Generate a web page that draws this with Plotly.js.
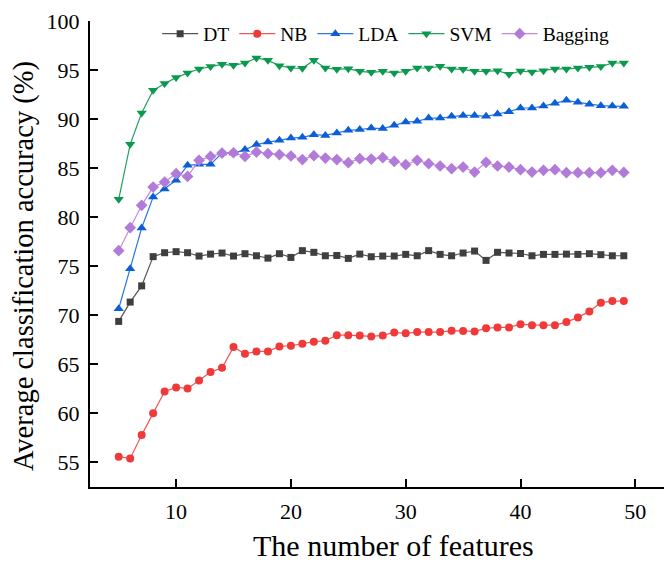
<!DOCTYPE html>
<html><head><meta charset="utf-8">
<script src="https://cdn.plot.ly/plotly-3.0.1.min.js"></script>
<style>body{margin:0;background:#fff}#c{width:664px;height:564px}</style>
</head><body><div id="c"></div>
<script>
const features = [5,6,7,8,9,10,11,12,13,14,15,16,17,18,19,20,21,22,23,24,25,26,27,28,29,30,31,32,33,34,35,36,37,38,39,40,41,42,43,44,45,46,47,48,49];
const dt = [69.38,71.35,73.0,75.98,76.38,76.49,76.38,76.04,76.24,76.35,76.04,76.28,76.07,75.83,76.28,75.9,76.59,76.42,76.07,76.1,75.8,76.24,75.97,76.04,76.04,76.21,76.07,76.59,76.21,76.07,76.35,76.55,75.6,76.42,76.35,76.3,76.07,76.21,76.21,76.24,76.21,76.28,76.18,76.07,76.07];
const nb = [55.58,55.41,57.79,60.03,62.24,62.65,62.55,63.36,64.21,64.66,66.76,66.08,66.32,66.32,66.83,66.9,67.1,67.31,67.41,67.98,67.98,67.94,67.85,67.95,68.26,68.16,68.29,68.29,68.29,68.43,68.4,68.36,68.67,68.77,68.77,69.1,69.0,69.0,69.0,69.31,69.79,70.4,71.29,71.45,71.45];
const lda = [70.67,74.75,78.9,82.05,82.87,83.76,85.29,85.39,85.39,86.54,86.54,86.89,87.4,87.66,87.84,88.07,88.14,88.41,88.34,88.58,88.86,88.93,89.09,89.03,89.37,89.7,89.77,90.11,90.11,90.28,90.38,90.38,90.28,90.52,90.76,91.13,91.13,91.33,91.61,91.91,91.71,91.51,91.37,91.33,91.3];
const svm = [81.82,87.43,90.62,92.93,93.62,94.23,94.7,95.11,95.35,95.58,95.48,95.72,96.23,95.99,95.45,95.21,95.18,95.99,95.21,95.07,95.14,94.87,94.77,94.87,94.7,94.87,95.21,95.21,95.38,95.11,95.07,94.87,94.87,94.94,94.57,94.9,94.8,94.94,95.11,95.11,95.21,95.28,95.35,95.72,95.72];
const bagging = [76.59,78.93,81.21,83.07,83.58,84.44,84.16,85.8,86.2,86.54,86.57,86.2,86.64,86.48,86.38,86.24,85.87,86.27,86.03,85.87,85.56,85.97,85.93,86.07,85.69,85.35,85.8,85.46,85.22,84.95,85.11,84.6,85.59,85.22,85.11,84.85,84.6,84.78,84.85,84.54,84.54,84.54,84.54,84.78,84.57];
const seriesNames = ['DT','NB','LDA','SVM','Bagging'];
const xTitle = 'The number of features';
const yTitle = 'Average classification accuracy (%)';

const serif = 'Liberation Serif, Times New Roman, serif';
function tr(name, y, color, lineColor, symbol, size){
  return {x: features, y: y, name: name, type:'scatter', mode:'lines+markers',
    line:{color: lineColor, width:1.2},
    marker:{color: color, symbol: symbol, size: size}};
}
const data = [
  tr(seriesNames[0], dt, '#3f3f3f', '#555555', 'square', 7),
  tr(seriesNames[1], nb, '#f03a3a', '#f25555', 'circle', 8),
  tr(seriesNames[2], lda, '#0a5ed8', '#2a78e0', 'triangle-up', 9),
  tr(seriesNames[3], svm, '#0a9a4e', '#22a060', 'triangle-down', 9),
  tr(seriesNames[4], bagging, '#b27ad9', '#c08ae0', 'diamond', 9)
];
const layout = {
  width:664, height:564,
  margin:{l:90, r:0, t:21, b:77},
  paper_bgcolor:'#fff', plot_bgcolor:'#fff',
  font:{family: serif, color:'#000', size:17},
  showlegend:true,
  legend:{orientation:'h', x:0.117, y:1.014, xanchor:'left', yanchor:'top', itemwidth:36,
    font:{family: serif, size:19.5, color:'#000'}, bgcolor:'rgba(0,0,0,0)', traceorder:'normal'},
  xaxis:{range:[2.5,52.5], dtick:10, tick0:10, showgrid:false, zeroline:false,
    showline:true, linecolor:'#000', linewidth:2, ticks:'inside', ticklen:8, tickwidth:2, tickcolor:'#000',
    tickfont:{family: serif, size:22}, ticklabelstandoff:4},
  yaxis:{range:[52.5,100], dtick:5, tick0:55, showgrid:false, zeroline:false,
    showline:true, linecolor:'#000', linewidth:2, ticks:'inside', ticklen:8, tickwidth:2, tickcolor:'#000',
    tickfont:{family: serif, size:22}, ticklabelstandoff:4},
  annotations:[
    {text: xTitle, xref:'paper', yref:'paper', x:0.528, y:-0.1245, xanchor:'center', yanchor:'middle',
     showarrow:false, font:{family: serif, size:30, color:'#000'}},
    {text: yTitle, xref:'paper', yref:'paper', x:-0.115, y:0.474, xanchor:'center', yanchor:'middle',
     textangle:-90, showarrow:false, font:{family: serif, size:28.5, color:'#000'}}
  ]
};
Plotly.newPlot('c', data, layout, {displayModeBar:false, staticPlot:true});
</script></body></html>
